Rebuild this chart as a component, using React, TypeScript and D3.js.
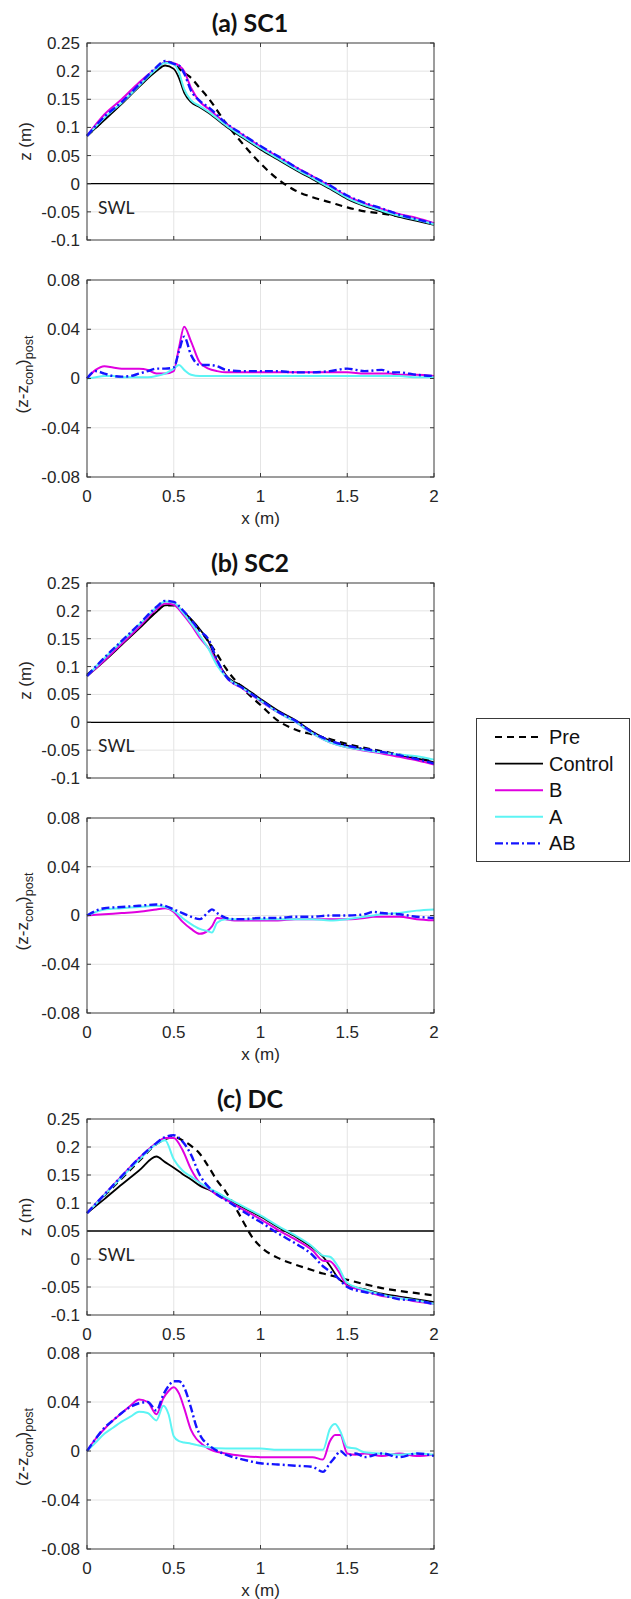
import React, { useRef, useEffect } from 'react';
import * as d3 from 'd3';

// ---- tick values ----
const xTicks = [0, 0.5, 1, 1.5, 2];
const zTicks = [-0.1, -0.05, 0, 0.05, 0.1, 0.15, 0.2, 0.25];
const dTicks = [-0.08, -0.04, 0, 0.04, 0.08];
const legendNames = ['Pre', 'Control', 'B', 'A', 'AB'];

// ---- (a) SC1 profiles ----
const gridSC1 = [0, 0.1, 0.2, 0.3, 0.4, 0.45, 0.5, 0.53, 0.56, 0.6, 0.65, 0.7, 0.8, 0.9, 1.0, 1.1, 1.2, 1.3, 1.4, 1.5, 1.6, 1.7, 1.8, 1.9, 2.0];
const sc1Pre = [0.085, 0.114, 0.144, 0.174, 0.203, 0.216, 0.214, 0.205, 0.197, 0.188, 0.17, 0.152, 0.108, 0.07, 0.036, 0.008, -0.012, -0.024, -0.033, -0.042, -0.049, -0.053, -0.058, -0.064, -0.071];
const sc1Control = [0.085, 0.113, 0.142, 0.172, 0.2, 0.21, 0.204, 0.188, 0.162, 0.145, 0.136, 0.126, 0.102, 0.081, 0.061, 0.043, 0.025, 0.008, -0.009, -0.027, -0.04, -0.05, -0.059, -0.066, -0.073];
const sc1B = [0.085, 0.123, 0.15, 0.18, 0.205, 0.216, 0.214, 0.21, 0.2, 0.17, 0.146, 0.133, 0.107, 0.086, 0.066, 0.048, 0.03, 0.013, -0.004, -0.022, -0.035, -0.045, -0.054, -0.061, -0.07];
const sc1A = [0.085, 0.117, 0.144, 0.174, 0.204, 0.215, 0.212, 0.198, 0.168, 0.148, 0.138, 0.128, 0.104, 0.083, 0.063, 0.045, 0.027, 0.01, -0.007, -0.025, -0.038, -0.048, -0.057, -0.064, -0.072];
const sc1AB = [0.085, 0.119, 0.145, 0.176, 0.207, 0.218, 0.213, 0.21, 0.196, 0.165, 0.147, 0.136, 0.108, 0.087, 0.067, 0.049, 0.03, 0.013, -0.003, -0.021, -0.034, -0.044, -0.055, -0.063, -0.071];

// (a) SC1 differences from control
const gridSC1d = [0, 0.05, 0.1, 0.15, 0.2, 0.25, 0.3, 0.35, 0.4, 0.45, 0.5, 0.53, 0.56, 0.6, 0.65, 0.7, 0.75, 0.8, 0.9, 1.0, 1.1, 1.2, 1.3, 1.4, 1.5, 1.6, 1.7, 1.75, 1.8, 1.9, 2.0];
const sc1dB = [0, 0.007, 0.01, 0.009, 0.008, 0.008, 0.008, 0.007, 0.004, 0.004, 0.006, 0.025, 0.042, 0.03, 0.013, 0.008, 0.006, 0.005, 0.005, 0.005, 0.005, 0.005, 0.005, 0.005, 0.005, 0.004, 0.004, 0.004, 0.003, 0.003, 0.002];
const sc1dA = [0, 0.001, 0.002, 0.002, 0.001, 0.001, 0.001, 0.001, 0.002, 0.004, 0.008, 0.011, 0.007, 0.003, 0.002, 0.002, 0.002, 0.002, 0.002, 0.002, 0.002, 0.002, 0.002, 0.002, 0.002, 0.002, 0.002, 0.002, 0.002, 0.001, 0.001];
const sc1dAB = [0, 0.006, 0.004, 0.002, 0.0015, 0.002, 0.004, 0.006, 0.008, 0.008, 0.009, 0.022, 0.034, 0.019, 0.011, 0.011, 0.01, 0.007, 0.006, 0.006, 0.006, 0.005, 0.005, 0.006, 0.008, 0.006, 0.007, 0.005, 0.005, 0.003, 0.002];

// ---- (b) SC2 profiles ----
const gridSC2 = [0, 0.1, 0.2, 0.3, 0.4, 0.45, 0.5, 0.55, 0.6, 0.65, 0.7, 0.75, 0.8, 0.9, 1.0, 1.1, 1.2, 1.3, 1.4, 1.5, 1.6, 1.7, 1.8, 1.9, 2.0];
const sc2Pre = [0.085, 0.113, 0.142, 0.171, 0.199, 0.21, 0.21, 0.198, 0.183, 0.165, 0.145, 0.122, 0.097, 0.06, 0.031, 0.003, -0.013, -0.022, -0.03, -0.039, -0.046, -0.052, -0.058, -0.064, -0.07];
const sc2Control = [0.083, 0.11, 0.139, 0.168, 0.198, 0.21, 0.211, 0.2, 0.185, 0.167, 0.145, 0.11, 0.085, 0.064, 0.042, 0.021, 0.004, -0.017, -0.033, -0.042, -0.049, -0.055, -0.06, -0.065, -0.072];
const sc2B = [0.083, 0.111, 0.141, 0.171, 0.203, 0.213, 0.211, 0.195, 0.175, 0.152, 0.133, 0.108, 0.082, 0.06, 0.038, 0.018, 0.001, -0.02, -0.036, -0.045, -0.051, -0.056, -0.062, -0.068, -0.076];
const sc2A = [0.083, 0.115, 0.145, 0.175, 0.206, 0.217, 0.215, 0.198, 0.178, 0.156, 0.132, 0.102, 0.082, 0.061, 0.039, 0.018, 0.001, -0.02, -0.036, -0.045, -0.05, -0.054, -0.058, -0.061, -0.067];
const sc2AB = [0.083, 0.116, 0.146, 0.176, 0.207, 0.218, 0.216, 0.202, 0.184, 0.164, 0.149, 0.112, 0.083, 0.061, 0.04, 0.019, 0.003, -0.018, -0.033, -0.042, -0.048, -0.053, -0.059, -0.066, -0.074];

const gridSC2d = [0, 0.1, 0.2, 0.3, 0.4, 0.45, 0.5, 0.55, 0.6, 0.65, 0.7, 0.72, 0.75, 0.8, 0.85, 0.9, 1.0, 1.1, 1.2, 1.3, 1.4, 1.5, 1.6, 1.65, 1.7, 1.8, 1.9, 2.0];
const sc2dB = [0, 0.001, 0.002, 0.003, 0.005, 0.006, 0.003, -0.005, -0.011, -0.015, -0.012, -0.009, -0.002, -0.003, -0.004, -0.004, -0.004, -0.004, -0.003, -0.003, -0.003, -0.003, -0.002, -0.001, -0.001, -0.001, -0.003, -0.004];
const sc2dA = [0, 0.005, 0.006, 0.007, 0.008, 0.007, 0.004, -0.002, -0.007, -0.011, -0.013, -0.014, -0.006, -0.003, -0.003, -0.003, -0.003, -0.003, -0.003, -0.003, -0.004, -0.003, -0.001, 0, 0.001, 0.002, 0.004, 0.005];
const sc2dAB = [0, 0.006, 0.007, 0.008, 0.009, 0.008, 0.005, 0.002, -0.001, -0.003, 0.003, 0.005, 0.002, -0.002, -0.003, -0.003, -0.002, -0.002, -0.001, -0.001, 0, 0, 0.001, 0.003, 0.002, 0.001, -0.001, -0.002];

// ---- (c) DC profiles ----
const gridDC = [0, 0.1, 0.2, 0.3, 0.4, 0.45, 0.5, 0.55, 0.6, 0.65, 0.7, 0.75, 0.8, 0.85, 0.9, 0.95, 1.0, 1.1, 1.2, 1.3, 1.36, 1.4, 1.45, 1.5, 1.6, 1.7, 1.8, 1.9, 2.0];
const dcPre = [0.082, 0.113, 0.144, 0.175, 0.205, 0.214, 0.218, 0.212, 0.202, 0.188, 0.165, 0.14, 0.12, 0.095, 0.067, 0.04, 0.022, 0.002, -0.01, -0.02, -0.026, -0.029, -0.033, -0.037, -0.045, -0.052, -0.057, -0.061, -0.065];
const dcControl = [0.082, 0.107, 0.133, 0.158, 0.183, 0.173, 0.163, 0.152, 0.142, 0.131, 0.124, 0.116, 0.108, 0.1, 0.092, 0.084, 0.076, 0.057, 0.04, 0.02, 0.004, -0.012, -0.035, -0.046, -0.054, -0.062, -0.067, -0.072, -0.077];
const dcB = [0.082, 0.115, 0.148, 0.18, 0.207, 0.216, 0.216, 0.195, 0.16, 0.136, 0.126, 0.114, 0.106, 0.097, 0.088, 0.08, 0.071, 0.052, 0.035, 0.015, -0.003, -0.004, -0.022, -0.048, -0.056, -0.066, -0.069, -0.076, -0.08];
const dcA = [0.082, 0.114, 0.146, 0.177, 0.205, 0.212, 0.178, 0.158, 0.147, 0.136, 0.127, 0.119, 0.11, 0.102, 0.094, 0.086, 0.078, 0.059, 0.042, 0.022, 0.006, 0.004, -0.015, -0.043, -0.055, -0.064, -0.07, -0.074, -0.08];
const dcAB = [0.082, 0.115, 0.148, 0.18, 0.207, 0.218, 0.221, 0.21, 0.186, 0.15, 0.129, 0.115, 0.105, 0.095, 0.085, 0.075, 0.066, 0.046, 0.028, 0.007, -0.013, -0.022, -0.035, -0.05, -0.059, -0.064, -0.072, -0.074, -0.081];

const gridDCd = [0, 0.05, 0.1, 0.15, 0.2, 0.25, 0.3, 0.35, 0.4, 0.44, 0.47, 0.5, 0.53, 0.56, 0.6, 0.63, 0.66, 0.7, 0.8, 0.9, 1.0, 1.1, 1.2, 1.3, 1.36, 1.4, 1.43, 1.46, 1.5, 1.55, 1.6, 1.7, 1.8, 1.9, 2.0];
const dcdB = [0, 0.01, 0.018, 0.025, 0.031, 0.037, 0.042, 0.04, 0.03, 0.043, 0.049, 0.052, 0.047, 0.035, 0.017, 0.01, 0.006, 0.002, -0.002, -0.004, -0.005, -0.005, -0.005, -0.005, -0.007, 0.008, 0.013, 0.013, -0.002, -0.003, -0.002, -0.004, -0.002, -0.004, -0.003];
const dcdA = [0, 0.007, 0.014, 0.019, 0.024, 0.028, 0.032, 0.031, 0.025, 0.037, 0.03, 0.012, 0.008, 0.007, 0.006, 0.005, 0.004, 0.003, 0.002, 0.002, 0.002, 0.001, 0.001, 0.001, 0.001, 0.018, 0.022, 0.016, 0.003, 0.002, -0.001, -0.002, -0.003, -0.002, -0.003];
const dcdAB = [0, 0.01, 0.019, 0.025, 0.031, 0.036, 0.039, 0.04, 0.033, 0.046, 0.053, 0.057, 0.057, 0.052, 0.035, 0.02, 0.011, 0.005, -0.003, -0.007, -0.01, -0.011, -0.012, -0.013, -0.017, -0.01, -0.005, 0, -0.004, -0.002, -0.005, -0.002, -0.005, -0.002, -0.004];

const styles = {
  Pre: { color: '#000000', width: 2.2, dash: '7,5' },
  Control: { color: '#000000', width: 1.8, dash: null },
  B: { color: '#e000e0', width: 2, dash: null },
  A: { color: '#5cf4f4', width: 2, dash: null },
  AB: { color: '#1414ff', width: 2.4, dash: '8,3,2,3' },
};

const L = 87, R = 434;
const tickFont = 'Liberation Sans, Arial, sans-serif';

const panels = [
  { title: '(a) SC1', top: 43, bottom: 240, kind: 'z', swl: 0, xLabels: false, grid: gridSC1,
    series: { Pre: sc1Pre, Control: sc1Control, B: sc1B, A: sc1A, AB: sc1AB } },
  { top: 280, bottom: 477, kind: 'd', xLabels: true, grid: gridSC1d,
    series: { B: sc1dB, A: sc1dA, AB: sc1dAB } },
  { title: '(b) SC2', top: 583, bottom: 778, kind: 'z', swl: 0, xLabels: false, grid: gridSC2,
    series: { Pre: sc2Pre, Control: sc2Control, B: sc2B, A: sc2A, AB: sc2AB } },
  { top: 818, bottom: 1013, kind: 'd', xLabels: true, grid: gridSC2d,
    series: { B: sc2dB, A: sc2dA, AB: sc2dAB } },
  { title: '(c) DC', top: 1119, bottom: 1315, kind: 'z', swl: 0.05, xLabels: 'ticks', grid: gridDC,
    series: { Pre: dcPre, Control: dcControl, B: dcB, A: dcA, AB: dcAB } },
  { top: 1353, bottom: 1549, kind: 'd', xLabels: true, grid: gridDCd,
    series: { B: dcdB, A: dcdA, AB: dcdAB } },
];

const App = () => {
  const svgRef = useRef(null);

  useEffect(() => {
    const svg = d3.select(svgRef.current);
    svg.selectAll('*').remove();

    const x = d3.scaleLinear().domain([0, 2]).range([L, R]);

    panels.forEach((p) => {
      const ticks = p.kind === 'z' ? zTicks : dTicks;
      const y = d3.scaleLinear()
        .domain(p.kind === 'z' ? [-0.1, 0.25] : [-0.08, 0.08])
        .range([p.bottom, p.top]);
      const g = svg.append('g');

      g.append('rect').attr('x', L).attr('y', p.top).attr('width', R - L)
        .attr('height', p.bottom - p.top).attr('fill', '#fff');

      // grid
      g.selectAll('.gx').data(xTicks.slice(1, -1)).enter().append('line')
        .attr('x1', d => x(d)).attr('x2', d => x(d))
        .attr('y1', p.top).attr('y2', p.bottom)
        .attr('stroke', '#e4e4e4').attr('stroke-width', 1);
      g.selectAll('.gy').data(ticks.slice(1, -1)).enter().append('line')
        .attr('x1', L).attr('x2', R)
        .attr('y1', d => y(d)).attr('y2', d => y(d))
        .attr('stroke', '#e4e4e4').attr('stroke-width', 1);

      if (p.swl !== undefined) {
        g.append('line').attr('x1', L).attr('x2', R)
          .attr('y1', y(p.swl)).attr('y2', y(p.swl))
          .attr('stroke', '#000').attr('stroke-width', 1.3);
        g.append('text').attr('x', 98).attr('y', y(p.swl) + 30)
          .attr('font-family', 'Lato, sans-serif').attr('font-size', 17.5)
          .attr('fill', '#222').text('SWL');
      }

      const line = d3.line()
        .x(d => x(d[0]))
        .y(d => y(d[1]))
        .curve(d3.curveMonotoneX);

      Object.keys(p.series).forEach((k) => {
        const s = styles[k];
        const pts = p.grid.map((gx, i) => [gx, p.series[k][i]]);
        g.append('path').attr('d', line(pts))
          .attr('fill', 'none').attr('stroke', s.color)
          .attr('stroke-width', s.width)
          .attr('stroke-dasharray', s.dash)
          .attr('stroke-linejoin', 'round');
      });

      // frame and inner ticks
      g.append('rect').attr('x', L).attr('y', p.top).attr('width', R - L)
        .attr('height', p.bottom - p.top).attr('fill', 'none')
        .attr('stroke', '#3a3a3a').attr('stroke-width', 1);
      xTicks.forEach((t) => {
        g.append('line').attr('x1', x(t)).attr('x2', x(t)).attr('y1', p.bottom).attr('y2', p.bottom - 4).attr('stroke', '#3a3a3a');
        g.append('line').attr('x1', x(t)).attr('x2', x(t)).attr('y1', p.top).attr('y2', p.top + 4).attr('stroke', '#3a3a3a');
      });
      ticks.forEach((t) => {
        g.append('line').attr('x1', L).attr('x2', L + 4).attr('y1', y(t)).attr('y2', y(t)).attr('stroke', '#3a3a3a');
        g.append('line').attr('x1', R).attr('x2', R - 4).attr('y1', y(t)).attr('y2', y(t)).attr('stroke', '#3a3a3a');
      });

      // y tick labels
      g.selectAll('.yl').data(ticks).enter().append('text')
        .attr('x', L - 7).attr('y', d => y(d)).attr('dy', '0.35em')
        .attr('text-anchor', 'end').attr('font-family', tickFont)
        .attr('font-size', 17).attr('fill', '#262626')
        .text(d => String(d));

      if (p.xLabels) {
        g.selectAll('.xl').data(xTicks).enter().append('text')
          .attr('x', d => x(d)).attr('y', p.bottom + 24.5)
          .attr('text-anchor', 'middle').attr('font-family', tickFont)
          .attr('font-size', 17).attr('fill', '#262626')
          .text(d => String(d));
      }
      if (p.xLabels === true) {
        g.append('text').attr('x', (L + R) / 2).attr('y', p.bottom + 47)
          .attr('text-anchor', 'middle').attr('font-family', tickFont)
          .attr('font-size', 17).attr('fill', '#262626').text('x (m)');
      }

      const cy = (p.top + p.bottom) / 2;
      if (p.kind === 'z') {
        g.append('text').attr('transform', `translate(25,${cy}) rotate(-90)`)
          .attr('dy', '0.35em').attr('text-anchor', 'middle')
          .attr('font-family', tickFont).attr('font-size', 17)
          .attr('fill', '#262626').text('z (m)');
      } else {
        const t = g.append('text').attr('transform', `translate(22,${cy - 4}) rotate(-90)`)
          .attr('dy', '0.35em').attr('text-anchor', 'middle')
          .attr('font-family', tickFont).attr('font-size', 17)
          .attr('fill', '#262626');
        t.append('tspan').text('(z-z');
        t.append('tspan').attr('font-size', 12.5).attr('dy', 5).text('con');
        t.append('tspan').attr('dy', -5).text(')');
        t.append('tspan').attr('font-size', 12.5).attr('dy', 5).text('post');
      }

      if (p.title) {
        g.append('text').attr('x', 250).attr('y', p.top - 11)
          .attr('text-anchor', 'middle').attr('font-family', 'Lato, sans-serif')
          .attr('font-weight', 'bold').attr('font-size', 25)
          .attr('fill', '#111').text(p.title);
      }
    });

    // legend
    const lg = svg.append('g');
    lg.append('rect').attr('x', 476.5).attr('y', 718.5).attr('width', 153).attr('height', 143)
      .attr('fill', '#fff').attr('stroke', '#3a3a3a').attr('stroke-width', 1);
    legendNames.forEach((k, i) => {
      const s = styles[k];
      const yy = 737 + i * 26.6;
      lg.append('line').attr('x1', 495).attr('x2', 543).attr('y1', yy).attr('y2', yy)
        .attr('stroke', s.color).attr('stroke-width', s.width)
        .attr('stroke-dasharray', s.dash);
      lg.append('text').attr('x', 549).attr('y', yy).attr('dy', '0.35em')
        .attr('font-family', tickFont).attr('font-size', 20).attr('fill', '#111').text(k);
    });
  }, []);

  return (
    <svg ref={svgRef} width={631} height={1599}
      style={{ position: 'absolute', left: 0, top: 0, display: 'block', background: '#fff' }} />
  );
};

export default App;
